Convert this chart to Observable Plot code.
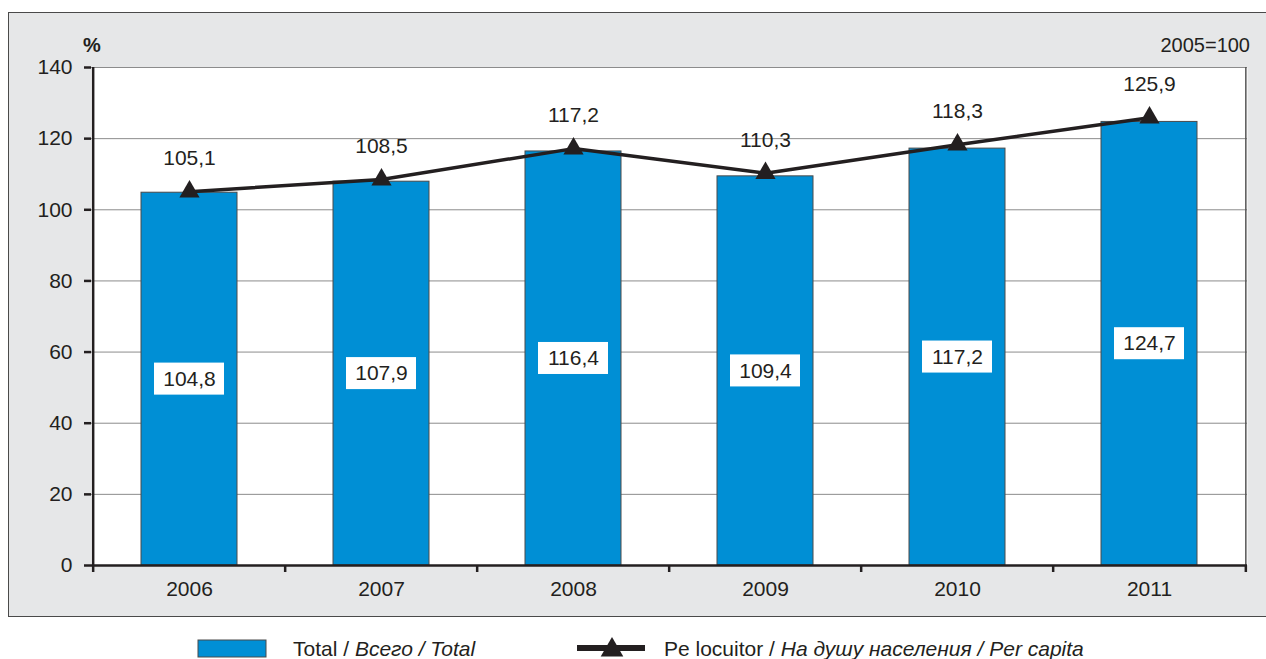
<!DOCTYPE html>
<html>
<head>
<meta charset="utf-8">
<script src="https://cdn.jsdelivr.net/npm/d3@7"></script>
<script src="https://cdn.jsdelivr.net/npm/@observablehq/plot@0.6"></script>
<style>
  html, body { margin: 0; padding: 0; background: #fff; }
  body { width: 1266px; height: 659px; position: relative; overflow: hidden; font-family: "Liberation Sans", Arial, sans-serif; color: #231f20; }
  #panel { position: absolute; left: 8px; top: 12px; width: 1270px; height: 603px; background: #e6e7e8; border: 1.5px solid #4a4a4a; }
  #chart { position: absolute; left: 0; top: 0; }
  .note { position: absolute; font-size: 20px; line-height: 20px; }
  #legend { position: absolute; left: 0; top: 628px; }
</style>
</head>
<body>
<div id="panel"></div>
<div id="chart"></div>
<div class="note" style="left:83px; top:35px; font-weight:bold;">%</div>
<div class="note" style="right:16px; top:35px;">2005=100</div>
<div id="legend"></div>
<script>
const years = ["2006", "2007", "2008", "2009", "2010", "2011"];
const total = [104.8, 107.9, 116.4, 109.4, 117.2, 124.7];
const perCapita = [105.1, 108.5, 117.2, 110.3, 118.3, 125.9];
const yTicks = [0, 20, 40, 60, 80, 100, 120, 140];
const legendTotal = ["Total / ", "Всего / Total"];
const legendCapita = ["Pe locuitor / ", "На душу населения / Per capita"];

const fmt = v => v.toFixed(1).replace(".", ",");
const data = years.map((year, i) => ({year, total: total[i], capita: perCapita[i]}));

const W = 1266, H = 659;
const mL = 91, mR = 19, mT = 67, mB = 94;
const step = (W - mL - mR) / years.length;
const ink = "#231f20";
const blue = "#008fd5";
const fs = 21;

const plot = Plot.plot({
  width: W, height: H,
  marginLeft: mL, marginRight: mR, marginTop: mT, marginBottom: mB,
  style: {background: "transparent", fontFamily: "'Liberation Sans', Arial, sans-serif", fontSize: fs + "px", color: ink},
  x: {domain: years, paddingInner: 0.5, paddingOuter: 0.25},
  y: {domain: [0, 140]},
  marks: [
    Plot.frame({fill: "white", stroke: "none"}),
    Plot.ruleY(yTicks.filter(d => d > 0), {stroke: "#8c8c8c", strokeWidth: 1}),
    Plot.ruleX([years[years.length - 1]], {dx: step / 2, stroke: "#555", strokeWidth: 1.5}),
    Plot.barY(data, {x: "year", y: "total", fill: blue, stroke: "#4a4a4a", strokeWidth: 1}),
    Plot.barY(data, {x: "year", y1: d => d.total / 2 - 4.5, y2: d => d.total / 2 + 4.5, fill: "white", insetLeft: 13, insetRight: 13}),
    Plot.text(data, {x: "year", y: d => d.total / 2, text: d => fmt(d.total), fill: ink, fontSize: fs}),
    Plot.ruleY([0], {stroke: ink, strokeWidth: 2.5}),
    Plot.ruleX([years[0]], {dx: -step / 2, stroke: ink, strokeWidth: 2.5}),
    Plot.axisY({ticks: yTicks, tickSize: 7, tickPadding: 12, tickFormat: d => String(d), stroke: ink, strokeWidth: 2.5, fill: ink, fontSize: fs, label: null}),
    Plot.axisX({tickSize: 0, tickPadding: 16, fill: ink, fontSize: fs, label: null}),
    Plot.axisX({tickSize: 7, tickFormat: () => "", dx: -step / 2, stroke: ink, strokeWidth: 2.5, label: null}),
    Plot.axisX({ticks: [years[years.length - 1]], tickSize: 7, tickFormat: () => "", dx: step / 2, stroke: ink, strokeWidth: 2.5, label: null}),
    Plot.line(data, {x: "year", y: "capita", stroke: ink, strokeWidth: 3.5}),
    Plot.dot(data, {x: "year", y: "capita", symbol: "triangle", r: 7.5, fill: ink, stroke: "none"}),
    Plot.text(data, {x: "year", y: "capita", text: d => fmt(d.capita), dy: -33, fill: ink, fontSize: fs})
  ]
});
document.getElementById("chart").appendChild(plot);

// Legend
const lg = d3.select("#legend").append("svg").attr("width", W).attr("height", 31)
  .style("font-family", "'Liberation Sans', Arial, sans-serif").style("font-size", fs + "px");
lg.append("rect").attr("x", 198).attr("y", 12).attr("width", 68).attr("height", 17)
  .attr("fill", blue).attr("stroke", "#4a4a4a").attr("stroke-width", 1);
const t1 = lg.append("text").attr("x", 293).attr("y", 28).attr("fill", ink);
t1.append("tspan").text(legendTotal[0]);
t1.append("tspan").attr("font-style", "italic").text(legendTotal[1]);
lg.append("line").attr("x1", 577).attr("x2", 645).attr("y1", 20).attr("y2", 20)
  .attr("stroke", ink).attr("stroke-width", 6);
lg.append("path").attr("d", d3.symbol(d3.symbolTriangle, 7.5 * 7.5 * Math.PI * 1.25)()).attr("transform", "translate(612,22)").attr("fill", ink);
const t2 = lg.append("text").attr("x", 664).attr("y", 28).attr("fill", ink);
t2.append("tspan").text(legendCapita[0]);
t2.append("tspan").attr("font-style", "italic").text(legendCapita[1]);
</script>
</body>
</html>
